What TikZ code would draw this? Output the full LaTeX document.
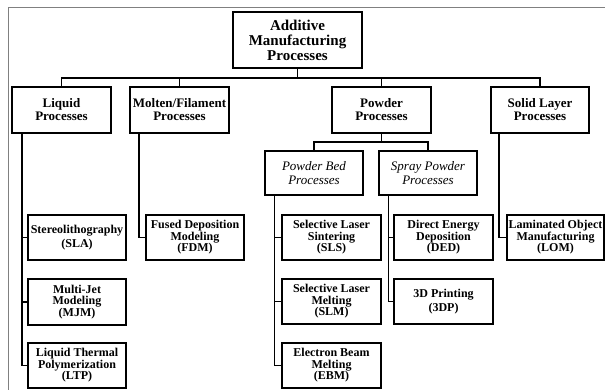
\documentclass[tikz,border=0pt]{standalone}
\usepackage{fontspec}
\setmainfont{Liberation Serif}
\usetikzlibrary{calc}
\tikzset{top/.style={draw, line width=2pt, align=center, font=\bfseries\fontsize{13}{13}\selectfont,
    minimum width=99pt, minimum height=46pt, inner sep=0pt},
  mid/.style={draw, line width=1.1pt, align=center, font=\itshape\fontsize{13}{13.5}\selectfont,
    minimum width=98pt, minimum height=44pt, inner sep=0pt},
  leaf/.style={draw, line width=1.3pt, align=center, font=\bfseries\fontsize{12}{11.5}\selectfont,
    minimum width=98pt, minimum height=45pt, inner sep=0pt},
  link/.style={line width=1.5pt}}

\begin{document}
\begin{tikzpicture}[x=1pt,y=-1pt]
  \useasboundingbox (0,0) rectangle (605,390);
  % frame
  \draw[gray, line width=0.8pt] (8,390) -- (8,7) -- (605,7);
  % root and the four families
  \node[top, minimum width=129pt, minimum height=56pt, font=\bfseries\fontsize{15}{15}\selectfont] (root) at (297.5,40)
    {Additive\\Manufacturing\\Processes};
  \node[top] (liq) at (61.5,110) {Liquid\\Processes};
  \node[top] (mol) at (179.5,110) {Molten/Filament\\Processes};
  \node[top] (pow) at (381.5,110) {Powder\\Processes};
  \node[top, minimum width=98pt] (sol) at (540,110) {Solid Layer\\Processes};
  \coordinate (bus) at (297.5,78);
  \draw[link] (root.south) -- (bus);
  \foreach \n in {liq,mol,pow,sol}{\draw[link] (bus) -| (\n.north);}
  % powder split
  \node[mid] (bed) at (314,173) {Powder Bed\\Processes};
  \node[mid] (spr) at (428,173) {Spray Powder\\Processes};
  \coordinate (pbus) at (381.5,142);
  \draw[link] (pow.south) -- (pbus);
  \foreach \n in {bed,spr}{\draw[link] (pbus) -| (\n.north);}
  % processes
  \node[leaf] (sla) at (77,237.5) {Stereolithography\\[2.5pt](SLA)};
  \node[leaf, minimum height=46pt] (mjm) at (77,302) {Multi-Jet\\Modeling\\(MJM)};
  \node[leaf] (ltp) at (77,365.5) {Liquid Thermal\\Polymerization\\(LTP)};
  \node[leaf] (fdm) at (195,237.5) {Fused Deposition\\Modeling\\(FDM)};
  \node[leaf, minimum width=99pt] (sls) at (331.5,237.5) {Selective Laser\\Sintering\\(SLS)};
  \node[leaf, minimum width=99pt] (slm) at (331.5,301.5) {Selective Laser\\Melting\\(SLM)};
  \node[leaf, minimum width=99pt] (ebm) at (331.5,365.5) {Electron Beam\\Melting\\(EBM)};
  \node[leaf, minimum width=99pt] (ded) at (443.5,237.5) {Direct Energy\\Deposition\\(DED)};
  \node[leaf, minimum width=99pt] (tdp) at (443.5,301.5) {3D Printing\\[2pt](3DP)};
  \node[leaf, minimum width=97pt] (lom) at (555.5,237.5) {Laminated Object\\Manufacturing\\(LOM)};
  % side rails
  \foreach \n in {sla,mjm,ltp}{\draw[link] ([xshift=11pt]liq.south west) |- (\n.west);}
  \draw[link] ([xshift=10pt]mol.south west) |- (fdm.west);
  \foreach \n in {sls,slm,ebm}{\draw[link] ([xshift=10pt]bed.south west) |- (\n.west);}
  \foreach \n in {ded,tdp}{\draw[link] ([xshift=10pt]spr.south west) |- (\n.west);}
  \draw[link] ([xshift=9pt]sol.south west) |- (lom.west);
\end{tikzpicture}
\end{document}
